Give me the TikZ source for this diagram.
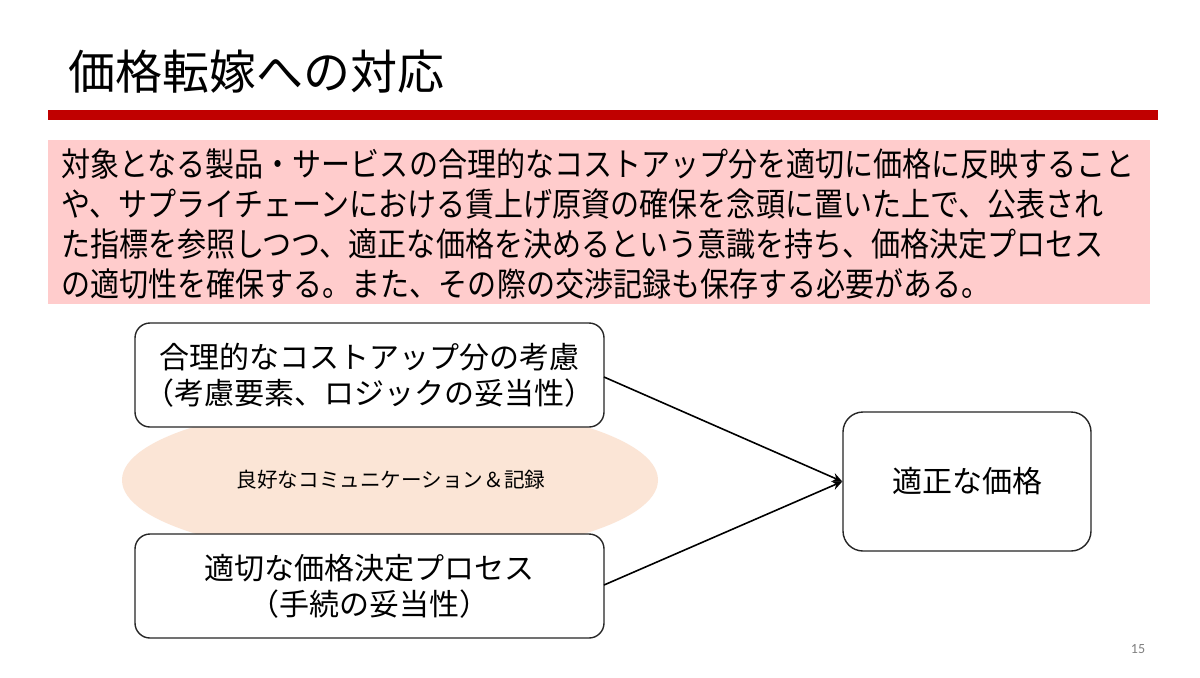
\documentclass[tikz,border=0pt]{standalone}
\usepackage{fontspec}
\setmainfont{Noto Sans CJK JP}
\newfontfamily\jpnarrow[FakeStretch=0.88]{Noto Sans CJK JP}
\newfontfamily\pagefont{Carlito}
\usetikzlibrary{arrows.meta}
\definecolor{barred}{HTML}{C00000}
\definecolor{pinkbg}{HTML}{FFCCCC}
\definecolor{peach}{HTML}{FBE5D6}
\begin{document}
\begin{tikzpicture}[x=0.5pt,y=-0.5pt,
  rbox/.style={draw=black!85, line width=0.7pt, fill=white, rounded corners=7.5pt, align=center, inner sep=0pt, font=\fontsize{15}{18}\selectfont},
  conn/.style={draw=black, line width=0.8pt, -{Stealth[length=5pt,width=4.5pt]}}]
\useasboundingbox (0,0) rectangle (1200,677);
\fill[white] (0,0) rectangle (1200,677);
% title
\node[anchor=west, inner sep=0pt, font=\fontsize{23.5}{28}\selectfont] (title) at (68,72) {価格転嫁への対応};
\fill[barred] (48,110) rectangle (1158,120);
% pink box
\fill[pinkbg] (48,140) rectangle (1150,304);
\node[anchor=north west, inner sep=0pt, align=left, font=\jpnarrow\fontsize{16.5}{20}\selectfont] (para) at (61,148) {対象となる製品・サービスの合理的なコストアップ分を適切に価格に反映すること\\や、サプライチェーンにおける賃上げ原資の確保を念頭に置いた上で、公表され\\た指標を参照しつつ、適正な価格を決めるという意識を持ち、価格決定プロセス\\の適切性を確保する。また、その際の交渉記録も保存する必要がある。};
% ellipse
\fill[peach] (390,480) ellipse [x radius=268, y radius=78];
\node[inner sep=0pt, font=\fontsize{10.3}{12}\selectfont] (comm) at (391,480) {良好なコミュニケーション＆記録};
% boxes
\node[rbox, minimum width=234.5pt, minimum height=52pt] (b1) at (369.5,375) {合理的なコストアップ分の考慮\\（考慮要素、ロジックの妥当性）};
\node[rbox, minimum width=234.5pt, minimum height=52pt] (b2) at (369.5,586) {適切な価格決定プロセス\\（手続の妥当性）};
\node[rbox, rounded corners=10pt, minimum width=124pt, minimum height=69.5pt] (b3) at (967,481.5) {適正な価格};
% connectors
\coordinate (p1) at (604,377);
\coordinate (p2) at (604,585);
\draw[conn] (p1) -- (b3.west);
\draw[conn] (p2) -- (b3.west);
% page number
\node[inner sep=0pt, text=black!50, font=\pagefont\fontsize{7}{8}\selectfont] (pg) at (1138,649) {15};
\end{tikzpicture}
\end{document}
